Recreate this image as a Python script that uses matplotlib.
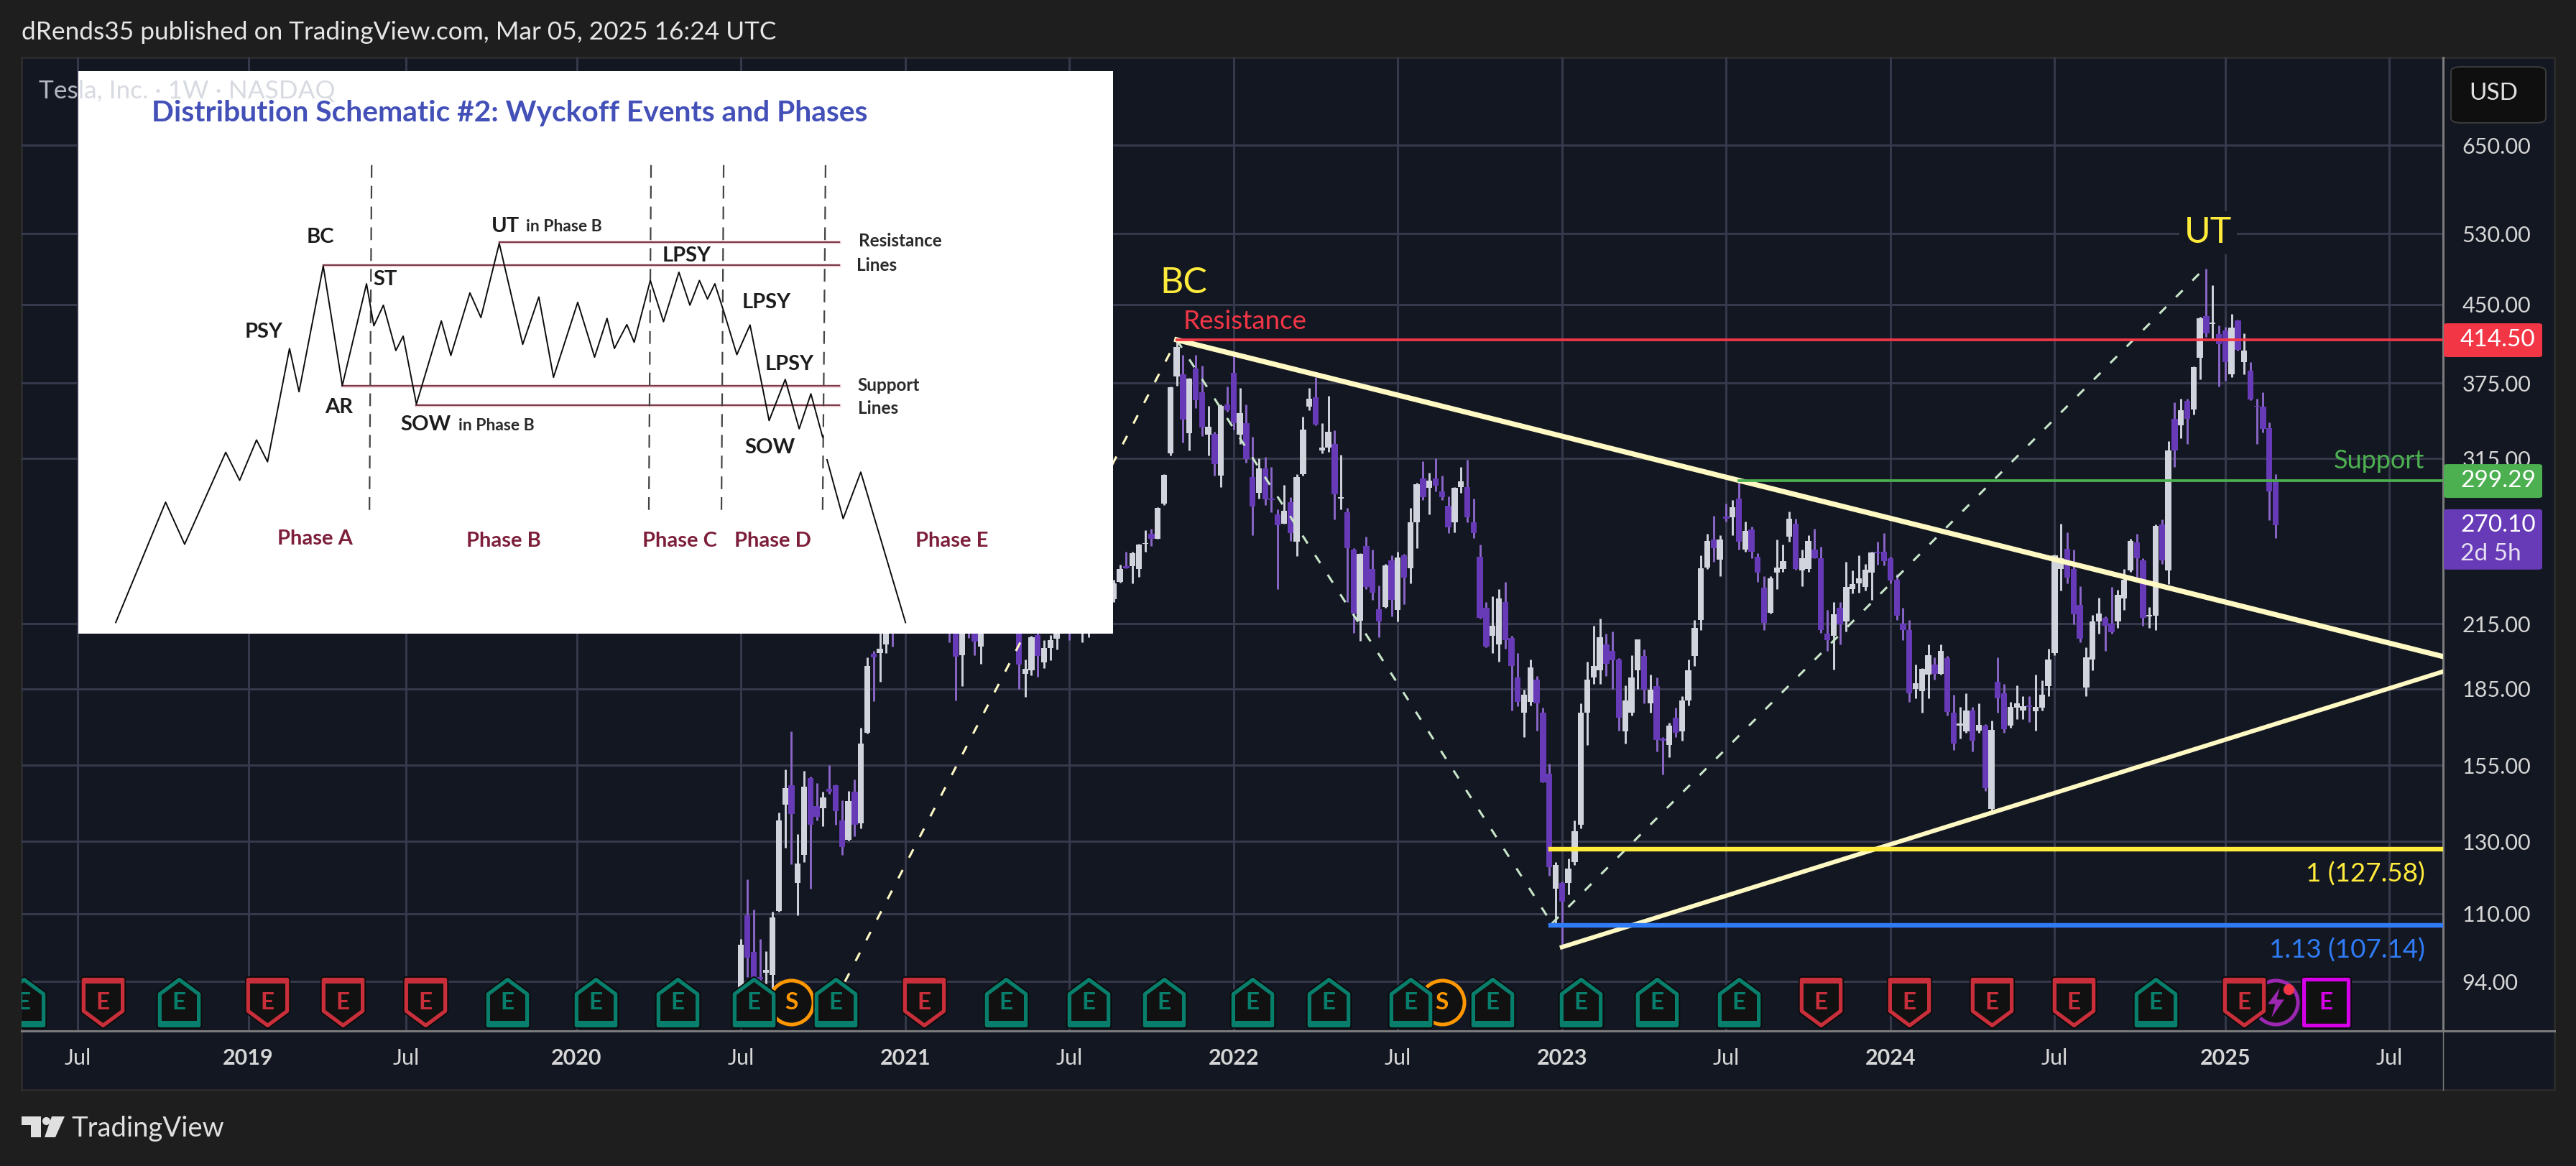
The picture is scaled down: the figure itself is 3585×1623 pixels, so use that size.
import matplotlib
matplotlib.use("Agg")
import matplotlib.pyplot as plt
from matplotlib.patches import FancyBboxPatch, Rectangle, Polygon
from matplotlib.lines import Line2D
from matplotlib.path import Path

W, H = 3585, 1623
plt.rcParams["font.family"] = "Lato"

# weekly candles, first one is the week of 2020-07-06
opens = [88,109.6,100.6,95,96,95.5,110.7,141.5,148,118,
         126,150.5,141,140.3,146.8,148,136.5,130.5,145.7,135.5,
         167,200.7,201,205,225,223,240,286,285,291,
         270,285,272,255,230,200,230,225,204,222,
         229,250,246,237,223,191.5,193,209.5,196.5,203.3,
         207.7,224,228,219,214,215,229,235,239,227.5,
         237,245.5,245.5,244,258.5,264.5,261.8,284,319,381,
         383,334,388,367,333,333.5,303,357,384,333,
         342,302,291,307.8,287,277,271,285,260,304,
         355,363,321,323,326,287,278,255,216.5,257.5,
         244,222.5,223.5,249,222,252,244.5,272,301,294.5,
         301,292,282.5,272,295,295,272,251,223,209,
         205,226,208,190,175,179.5,189,175,152,116.5,
         118,118,124,135,175,190,193,205,202,198,
         167.5,175,193,199.5,179,186,165,162.5,173,167.5,
         180,199.5,217,245,261,249.5,275.5,275,287,255,
         267.5,251,233.5,220.5,242,244,263,271,243,244,
         255,250,210,209,223,216,233,236,234,242,
         254,254,250,238,215,212,185,184,191,195.5,
         191.5,198.5,175,170,167.5,176,168,170,140,188,
         183,170,177,176,178,175.5,177,186,201,244,
         255.5,244,224.5,185.5,198,216,218,215,216,228,
         243,259.5,249,218.5,219,270.5,243,345,340,360,
         353,397.5,438,430,420,423.5,383,433.5,394,386,
         356,355,338,300]
highs = [103.8,119,111,103.7,100.9,110.5,139,153.5,167.5,132.2,
         153,151,148.8,145.7,155,148.2,143,146,150,169,
         199,202,218,232,238,239,294.8,300,300,300,
         293,295,280,268,240,240,240,228,222,232,
         260,260,256,240,225,198,209,212,207,209.5,
         232,232,232,224,225,230,240,240,240,238,
         246.5,254,254,258.5,267,268,281.5,304,372,414.5,
         400,379.5,400,390.6,356,335,357,372,400,371,
         357,331,315,316,309,280,296.5,288,303.7,347,
         371,380.5,342,364,336,318,281,256,253,263,
         255,235,247,252,254,252.5,281,298,313,305,
         315,303,288.5,295,309,314,287,258,226,229,
         233,237,209,201,184.5,198,190.5,177,155.5,124,
         118.5,125,136.5,179,197,214,217.5,210,211,198.5,
         186.5,200,207.5,202.5,191,190,165.5,171,177,182,
         198,217,252,264.5,276,264,284,286,299.3,272.5,
         269,253,240,240,261,258,278.5,274,255,264,
         268,257,222,226,226,248,243,252,247,254,
         260,265,251,241,223,217,195.5,194,205,199,
         205,199.5,182.5,177.5,183,177.5,179,170.5,172,198.9,
         187,179.5,186.5,182,182,191,188.5,203,252.4,271,
         265.5,255,234.5,203.5,219.5,228.5,218.5,234,232.5,244,
         261.5,264.5,250,223.5,270.5,273.5,328,358.6,361.5,361.5,
         389.5,437,488.5,470,428.5,427,440,434,421,394,
         362,367,342.5,304]
lows = [85,95,92.5,93.6,93.5,92,110.5,128,123.3,109.5,
        124,116.5,136.5,134.7,145,135,126,130.2,131.5,134,
        166.7,179.7,188,201,204,221,239,270,275,263,
        268,267,258,206,180,186,208,200,196,218,
        227,232,231,222,185,181.7,190.8,190.3,194,197.5,
        202.5,220,207,213.5,206,208.5,226,222,225,226,
        236.5,244.5,236,239.5,254,257.5,261.5,283,317,373,
        327,321,354,332,317,303,295,351,337,326,
        312,264,287,283,278,233,271,260.5,251.5,303,
        352,340,319,320,273.5,280,226,210.5,206.7,233,
        227,208.5,223,218.7,216,225,236,256,286,277,
        292,286,265,265.5,291,272,262,217.5,203.5,201,
        197,203,176,177.7,165.5,178,168,149,120,107.5,
        101.8,115,123,134,162.5,187,187,190.5,185,168,
        163,174,185,179,175,160,151.7,158,165.5,164,
        178,195,212,244,248,240,272.5,264,255,254,
        250,237,212,220,233,242.5,260,243.5,234.5,242.5,
        250,210.5,202,193.5,205,211,230.5,231,232,227,
        246.5,246,236,217,207,179.5,181,175,181,189,
        191,174,160.5,165,167,160,167,146,138.8,175,
        167,169,172.5,172.5,171.4,168,176,182,200,232,
        236,214.7,206,182,193,210,202,210,213,222,
        242.5,239.5,214,213,212,247,235.5,308.8,330,326,
        349,378,417,415,372,377,380.5,404,383,360.5,
        326,334.5,273,262]
closes = [102.3,99.4,93.9,94.5,96.5,109,136.5,147,138.5,123.5,
          147.5,135,137.5,144,145.8,139.4,128.4,142.8,135,163,
          195,199,203,231.7,220.6,235,293.3,275.4,282.2,264.5,
          284,272,260.4,225.2,199.3,231.2,218.3,206.2,220.6,225.7,
          246.6,243.1,236.5,224.1,195.6,193.6,208.4,199.7,203.3,207,
          224,226.3,219,214.5,215,229,233,239,227,236,
          244,244.5,253,258,259,261.8,281,303.2,371.3,407.4,
          344.5,379,360.6,338.5,339,310.9,355.7,352,342,350,
          314.6,282,307.8,286.7,286,270,279,265,302,336.9,
          361.5,341,323,335,290,288,256,220,252.7,234,
          231,216,246,227,250.6,239,272,297,288,299.5,
          296,288,268.5,294.5,299,275,265,218,204,214,
          228,207,195,179.4,182.4,194.5,179,149,122.5,123,
          113,122,133,175,189,195,208.3,196,197.5,173,
          180,190,207.5,184.5,184.5,164.3,164,170,167,180,
          193,213,244.4,260.5,256,261,274,281.4,260,266.4,
          253.9,242,215.5,238.6,245,248.5,274,244,250,260.5,
          250,212,207,219.9,214.6,234,235.5,238.8,243.8,253.5,
          253,248.4,237.5,218.9,212,183,187.5,193.6,199.9,191.5,
          202,175.3,163,170.8,175.8,164,170.2,147,168.3,181,
          168.5,177.5,179,177.8,177.3,177.5,182.5,197.9,252,250,
          239,219.8,207.7,198.9,216,220,214,210.7,230,238,
          260.5,250,218,219.5,269.8,248.9,321,321,352.5,345,
          389,436,421,431.7,410.3,394,426.5,405,404.6,361,
          355,337.5,292,270.1]

price_ticks = [650, 530, 450, 375, 315, 215, 185, 155, 130, 110, 94]
time_ticks = [-105, -78, -53, -26, 0, 26, 52, 78, 104, 130, 156, 182, 208, 235, 261]
time_labels = ["Jul", "2019", "Jul", "2020", "Jul", "2021", "Jul", "2022", "Jul", "2023", "Jul", "2024", "Jul", "2025", "Jul"]

# levels and drawings
resistance = 414.50
support = 299.29
fib_1 = 127.58
fib_113 = 107.14
level_start = {"res": 69, "sup": 158, "fib": 128.2}
upper_trend_x = [69, 269.5]
upper_trend_p = [414.5, 199.3]
lower_trend_x = [130, 269.5]
lower_trend_p = [101.8, 192.5]
leg1_x = [8, 69]
leg1_p = [74, 414.5]
leg2_x = [69, 128.4]
leg2_p = [414.5, 107.5]
leg3_x = [128.4, 231]
leg3_p = [107.5, 483.7]

# earnings / events row, weeks relative to first candle
earn_beat = [-113.6, -89, -37, -23, -10, 2, 15, 42, 55, 67, 81, 93, 106, 119, 133, 145, 158, 224]
earn_miss = [-101, -75, -63, -50, 29, 171, 185, 198, 211, 238]
earn_next = [251]
splits = [8, 111]
dividend_like = [243]
event_price = 89.6

# schematic inset, values
sch_x = [158,226,252,308,327,350,365,395,408,441,467,500,510,523,540,550,568,602,615,641,656,681,713,735,755,788,811,828,838,855,865,887,905,926,941,954,965,975,988,1005,1023,1049,1071,1090,1106,1122]
sch_y = [1510,1218,1320,1097,1165,1067,1120,845,950,645,935,688,790,740,850,815,980,778,862,710,770,590,835,720,915,733,866,772,845,787,830,680,780,660,740,680,725,688,760,860,788,1020,920,1040,955,1060]
sch2_x = [1128,1150,1174,1235]
sch2_y = [1115,1258,1145,1510]
sch_levels = [(587, 681), (643, 441), (935, 467), (983, 568)]
sch_dash = [(507, 504), (888, 885), (987, 984), (1126, 1122)]
sch_labels = [("BC", 437, 575), ("LPSY", 937, 620), ("ST", 525, 677), ("LPSY", 1045, 733), ("PSY", 360, 805),
              ("LPSY", 1077, 883), ("AR", 462, 988), ("SOW", 1050, 1085)]
sch_small = [("Resistance", 1228, 585), ("Lines", 1196, 643), ("Support", 1212, 935), ("Lines", 1198, 990)]
sch_phases = [("Phase A", 430, 1307), ("Phase B", 687, 1312), ("Phase C", 927, 1312), ("Phase D", 1054, 1312), ("Phase E", 1298, 1312)]

BG = "#1e1e1e"
PANE = "#131722"
GRID = "#363a4c"
UP = "#d1d4dc"
DOWN = "#673ab7"
DOWN_WICK = "#8a66c8"
TEXT = "#d6d6d6"
CREAM = "#fff9c4"


def fx(px):
    return px / W


def fy(py):
    return 1 - py / H


fig = plt.figure(figsize=(W / 100, H / 100), dpi=100, facecolor=BG)

# pane background goes behind everything
fig.add_artist(Rectangle((fx(30), fy(1517)), fx(3525), 1437 / H, transform=fig.transFigure,
                         facecolor=PANE, edgecolor="#2c2c2c", lw=2, zorder=-1))

ax = fig.add_axes([fx(30), fy(1435), fx(3370), 1355 / H], facecolor="none", zorder=0)
ax.set_yscale("log")
ax.set_xlim(-113.9, 269.5)
ax.set_ylim(83.86, 796.2)

ax.set_yticks(price_ticks, ["%.2f" % p for p in price_ticks])
ax.minorticks_off()
ax.yaxis.tick_right()
ax.set_xticks(time_ticks, time_labels)
ax.tick_params(axis="y", length=0, pad=19, labelsize=22, labelcolor=TEXT)
ax.tick_params(axis="x", length=0, pad=17, labelsize=22, labelcolor=TEXT)
for lab, txt in zip(ax.get_xticklabels(), time_labels):
    if txt != "Jul":
        lab.set_fontweight("bold")
ax.grid(True, color=GRID, lw=2.1)
ax.set_axisbelow(True)
for name in ["left", "top"]:
    ax.spines[name].set_visible(False)
for name in ["right", "bottom"]:
    ax.spines[name].set_color("#7b7b7b")
    ax.spines[name].set_linewidth(2.2)

# candles
weeks = list(range(len(closes)))
body_col = [UP if c >= o else DOWN for o, c in zip(opens, closes)]
wick_col = [UP if c >= o else DOWN_WICK for o, c in zip(opens, closes)]
ax.vlines(weeks, lows, highs, colors=wick_col, lw=2.1, zorder=3)
ax.bar(weeks, [abs(c - o) for o, c in zip(opens, closes)], bottom=[min(o, c) for o, c in zip(opens, closes)],
       width=0.95, color=body_col, lw=0, zorder=3.1)

# fan of dashed legs
dash = (0, (4.3, 6.3))
ax.plot(leg1_x, leg1_p, color=CREAM, lw=2.2, ls=dash, zorder=4)
ax.plot(leg2_x, leg2_p, color="#c8e6c9", lw=2.2, ls=dash, zorder=4)
ax.plot(leg3_x, leg3_p, color="#c8e6c9", lw=2.2, ls=dash, zorder=4)

# levels
xmax = ax.get_xlim()[1]
ax.plot([level_start["res"], xmax], [resistance, resistance], color="#f23645", lw=2.7, zorder=5)
ax.plot([level_start["sup"], xmax], [support, support], color="#4caf50", lw=2.7, zorder=5)
ax.plot([level_start["fib"], xmax], [fib_1, fib_1], color="#ffeb3b", lw=4.6, zorder=5)
ax.plot([level_start["fib"], xmax], [fib_113, fib_113], color="#2f7cf6", lw=4.6, zorder=5)
ax.plot(upper_trend_x, upper_trend_p, color=CREAM, lw=5.2, zorder=4.5)
ax.plot(lower_trend_x, lower_trend_p, color=CREAM, lw=4.4, zorder=4.5)

# event markers
beat_shape = Path([(-.85, -1), (.85, -1), (.85, .37), (0, 1), (-.85, .37), (-.85, -1)], closed=True)
miss_shape = Path([(-.85, 1), (.85, 1), (.85, -.37), (0, -1), (-.85, -.37), (-.85, 1)], closed=True)
band_low = Path([(-.85, -1), (.85, -1), (.85, -.8), (-.85, -.8), (-.85, -1)], closed=True)
band_high = Path([(-.85, 1), (.85, 1), (.85, .8), (-.85, .8), (-.85, 1)], closed=True)
square = Path([(-.85, -.88), (.85, -.88), (.85, .88), (-.85, .88), (-.85, -.88)], closed=True)
bolt = Path([(.25, 1), (-.55, -.1), (-.05, -.1), (-.3, -1), (.55, .2), (.05, .2), (.25, 1)], closed=True)
MS = 46


def event_marks(xs, shape, band, col, z):
    for x in xs:
        ax.plot(x, event_price, marker=shape, ms=MS, mfc="none", mec="#0b0b0b", mew=6.5, zorder=z)
        ax.plot(x, event_price, marker=shape, ms=MS, mfc="#111111", mec=col, mew=3.8, zorder=z + .01)
        if band is not None:
            ax.plot(x, event_price, marker=band, ms=MS, mfc=col, mec=col, mew=0, zorder=z + .02)
        ax.text(x, event_price, "E", color=col, fontsize=24, fontweight="bold", ha="center", va="center",
                zorder=z + .03, clip_on=True)


for x in splits:
    ax.plot(x, event_price, marker="o", ms=44, mfc="#111111", mec="#ff9800", mew=3.6, zorder=6)
    ax.text(x, event_price, "S", color="#ff9800", fontsize=24, fontweight="bold", ha="center", va="center", zorder=6.1)
for x in dividend_like:
    ax.plot(x, event_price, marker="o", ms=44, mfc="#111111", mec="#9c27b0", mew=3.6, zorder=6)
    ax.plot(x, event_price, marker=bolt, ms=30, mfc="#9c27b0", mec="none", zorder=6.1)
    ax.plot(x + 2, 92.3, marker="o", ms=11, mfc="#f23645", mec="none", zorder=8)
event_marks(earn_beat, beat_shape, band_low, "#087f6c", 7)
event_marks(earn_miss, miss_shape, band_high, "#c92f3b", 7)
event_marks(earn_next, square, None, "#d500e8", 7)

# drawing labels
ax.text(70.1, 473, "BC", color="#ffeb3b", fontsize=36, ha="center", va="center", zorder=5,
        bbox=dict(facecolor=PANE, edgecolor="none", pad=4))
ax.text(232.3, 531, "UT", color="#ffeb3b", fontsize=36, ha="center", va="center", zorder=5,
        bbox=dict(facecolor=PANE, edgecolor="none", pad=5))
ax.text(70, 421, "Resistance", color="#f23645", fontsize=26.5, ha="left", va="bottom", zorder=5)
ax.text(266.6, 305, "Support", color="#4caf50", fontsize=26, ha="right", va="bottom", zorder=5)
ax.text(266.6, 120.6, "1 (127.58)", color="#ffeb3b", fontsize=26.5, ha="right", va="center", zorder=5)
ax.text(266.6, 101, "1.13 (107.14)", color="#2f7cf6", fontsize=26.5, ha="right", va="center", zorder=5)


def price_box(price, col, label, extra=None):
    # box sits on the level, so take its pixel row from the axes scale
    yp = H - ax.transData.transform((0, price))[1]
    top, height = (yp - 23, 47) if extra is None else (yp - 22, 84)
    fig.add_artist(FancyBboxPatch((fx(3401), fy(top + height)), fx(137), height / H,
                                  boxstyle="round,pad=0,rounding_size=0.0015", transform=fig.transFigure,
                                  facecolor=col, edgecolor="none", zorder=1))
    fig.text(fx(3424), fy(yp), label, color="white", fontsize=24, va="center", ha="left", zorder=3)
    if extra is not None:
        fig.text(fx(3424), fy(yp + 40), extra, color="#e6e0f2", fontsize=24, va="center", ha="left", zorder=3)


price_box(resistance, "#f23645", "414.50")
price_box(support, "#4caf50", "299.29")
price_box(closes[-1], DOWN, "270.10", "2d 5h")

# thin separator under the price pane, time axis strip
fig.add_artist(Line2D([fx(3400), fx(3400)], [fy(1435), fy(1517)], color="#7b7b7b", lw=1))
fig.add_artist(Line2D([fx(3400), fx(3555)], [fy(1435), fy(1435)], color="#7b7b7b", lw=2.2))

# currency button
fig.add_artist(FancyBboxPatch((fx(3411), fy(171)), fx(132), 78 / H, boxstyle="round,pad=0,rounding_size=0.004",
                              transform=fig.transFigure, facecolor="#0f0f0f", edgecolor="#3a3a3a", lw=1.5, zorder=1))
fig.text(fx(3470), fy(130), "USD", color="#e0e0e0", fontsize=24, ha="center", va="center", zorder=3)

# header and footer
fig.text(fx(30), fy(45), "dRends35 published on TradingView.com, Mar 05, 2025 16:24 UTC",
         color="#e6e6e6", fontsize=25.4, ha="left", va="center")
fig.text(fx(54), fy(127), "Tesla, Inc. \u00b7 1W \u00b7 NASDAQ", color="#d1d4dc", fontsize=25.4, ha="left", va="center", alpha=.85, zorder=5)
logo = "#e0e0e0"
fig.add_artist(Polygon([(fx(30), fy(1554)), (fx(57), fy(1554)), (fx(57), fy(1583)), (fx(43), fy(1583)), (fx(43), fy(1566)), (fx(30), fy(1566))],
                       transform=fig.transFigure, facecolor=logo, edgecolor="none"))
fig.add_artist(Polygon([(fx(72), fy(1554)), (fx(90), fy(1554)), (fx(77), fy(1583)), (fx(62), fy(1583))],
                       transform=fig.transFigure, facecolor=logo, edgecolor="none"))
fig.add_artist(Line2D([fx(64)], [fy(1560)], marker="o", ms=8, color=logo, mew=0, transform=fig.transFigure))
fig.text(fx(99), fy(1571), "TradingView", color="#e0e0e0", fontsize=27.5, ha="left", va="center")

# pasted schematic
ins = fig.add_axes([fx(109), fy(882), fx(1440), 783 / H], facecolor="white", zorder=2)
ins.set_xlim(107, 1518)
ins.set_ylim(1537, 172)
ins.set_xticks([])
ins.set_yticks([])
for s in ins.spines.values():
    s.set_visible(False)
for y, x0 in sch_levels:
    ins.plot([x0, 1145], [y, y], color="#f0d8dc", lw=3.4)
    ins.plot([x0, 1145], [y, y], color="#7b3a4c", lw=1.5)
for x0, x1 in sch_dash:
    ins.plot([x0, x1], [400, 1238], color="#444444", lw=1.6, ls=(0, (8, 5)))
ins.plot(sch_x, sch_y, color="#0c0c0c", lw=1.4)
ins.plot(sch2_x, sch2_y, color="#0c0c0c", lw=1.4)
ins.text(695, 274, "Distribution Schematic #2: Wyckoff Events and Phases", color="#4350b8", fontsize=29.3,
         fontweight="bold", ha="center", va="center")
for txt, x, y in sch_labels:
    ins.text(x, y, txt, color="#1c1c1c", fontsize=21, fontweight="bold", ha="center", va="center")
for txt, x, y in sch_small:
    ins.text(x, y, txt, color="#2a2a2a", fontsize=17.5, fontweight="bold", ha="center", va="center")
ins.text(670, 548, "UT", color="#1c1c1c", fontsize=21, fontweight="bold", ha="left", va="center")
ins.text(717, 550, "in Phase B", color="#2a2a2a", fontsize=16.5, fontweight="bold", ha="left", va="center")
ins.text(546, 1030, "SOW", color="#1c1c1c", fontsize=21, fontweight="bold", ha="left", va="center")
ins.text(625, 1032, "in Phase B", color="#2a2a2a", fontsize=16.5, fontweight="bold", ha="left", va="center")
for txt, x, y in sch_phases:
    ins.text(x, y, txt, color="#7d1f3a", fontsize=21, fontweight="bold", ha="center", va="center")

fig.savefig("out.png", dpi=100, facecolor=BG)
